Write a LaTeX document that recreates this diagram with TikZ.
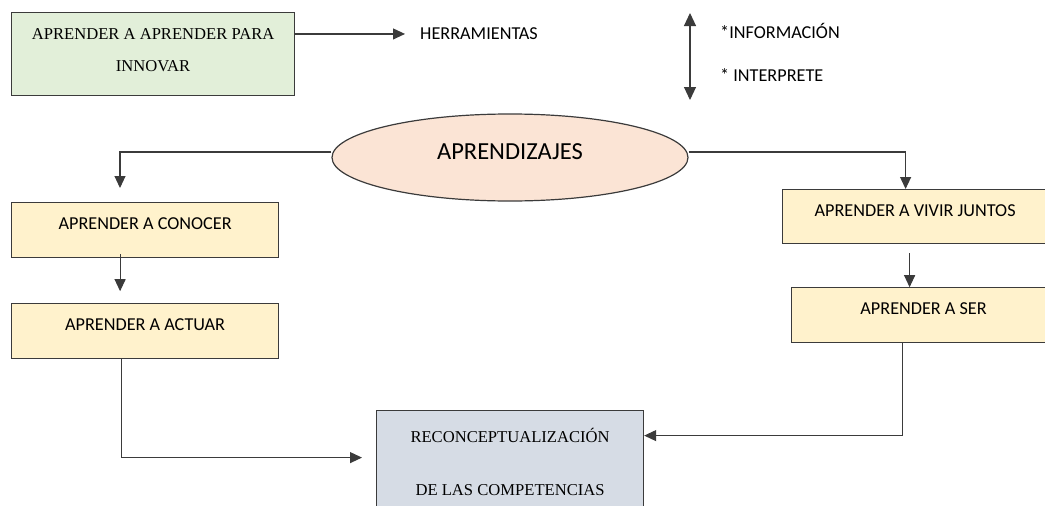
\documentclass[tikz,border=0pt]{standalone}
\usepackage{fontspec}
\setmainfont{Carlito}
\newfontfamily\cambria{Liberation Serif}
\usetikzlibrary{positioning,shapes.geometric,arrows.meta}

\definecolor{verde}{HTML}{E2EFD9}
\definecolor{durazno}{HTML}{FBE4D5}
\definecolor{crema}{HTML}{FFF2CC}
\definecolor{gris}{HTML}{D6DCE5}
\definecolor{borde}{HTML}{3B3B3B}

\tikzset{
  caja/.style={draw=borde,line width=1.2pt,inner sep=0pt,minimum width=267pt,
    text height=26.5pt,text depth=28.5pt,font=\fontsize{18.2}{22}\selectfont},
  flecha/.style={draw=borde,line width=1.1pt,-{Triangle[width=11pt,length=12pt]}},
  doble/.style={draw=borde,line width=1.1pt,{Triangle[width=12pt,length=13pt]}-{Triangle[width=12pt,length=13pt]}},
  etiqueta/.style={inner sep=0pt,anchor=base west,font=\fontsize{18.2}{22}\selectfont}
}

\begin{document}
\begin{tikzpicture}[x=1pt,y=-1pt]
\useasboundingbox (0,0) rectangle (1045,506);
\clip (0,0) rectangle (1045,506);

\node[caja,fill=verde,minimum width=283pt,text height=58.5pt,text depth=24.5pt,align=center,
  font=\cambria\fontsize{16.6}{32}\selectfont,anchor=north west] (innovar) at (11,12)
  {APRENDER A APRENDER PARA\\INNOVAR};
\node[etiqueta] (herr) at (420,39.8) {HERRAMIENTAS};
\node[etiqueta] (info) at (720,38.8) {*INFORMACIÓN};
\node[etiqueta] (interp) at (720,81.8) {* INTERPRETE};
\coordinate (arriba) at (690,13);
\coordinate (abajo) at (690,100);

\node[ellipse,draw=borde,line width=1.2pt,fill=durazno,minimum width=356pt,minimum height=87pt,
  inner sep=0pt,text height=9pt,text depth=4.6pt,font=\fontsize{24.5}{29}\selectfont] (aprend) at (510,157.5) {APRENDIZAJES};
\coordinate (izq) at (120,188);

\node[caja,fill=crema,anchor=north west] (conocer) at (11,202) {APRENDER A CONOCER};
\node[caja,fill=crema] (actuar) [below=45pt of conocer] {APRENDER A ACTUAR};
\node[caja,fill=crema,minimum width=265pt,text height=26.5pt,text depth=27.5pt,anchor=north west] (vivir) at (782,189) {APRENDER A VIVIR JUNTOS};
\node[caja,fill=crema,minimum width=264pt] (ser) [below=43pt of vivir,xshift=8.5pt] {APRENDER A SER};

\node[caja,fill=gris,text height=84.5pt,text depth=35.5pt,align=center,
  font=\cambria\fontsize{16.6}{53}\selectfont,anchor=north west] (recon) at (376,410)
  {RECONCEPTUALIZACIÓN\\DE LAS COMPETENCIAS};

\draw[flecha] (innovar.east |- herr.west) -- ([xshift=-15pt]herr.west);
\draw[doble] (arriba) -- (abajo);
\draw[flecha] ([yshift=5.5pt]aprend.west) -| (izq);
\draw[flecha] ([yshift=5.5pt]aprend.east) -| ([xshift=-9.5pt]vivir.north);
\draw[flecha] ([xshift=-25pt,yshift=4pt]conocer.south) -- ([xshift=-25pt,yshift=12pt]actuar.north);
\draw[flecha] ([xshift=-5.5pt,yshift=-9pt]vivir.south) -- ([xshift=-14pt]ser.north);
\draw[flecha] ([xshift=-21pt]ser.south) |- ([yshift=35pt]recon.east);
\draw[flecha] ([xshift=-24pt]actuar.south) |- ([xshift=-14pt,yshift=13pt]recon.west);
\end{tikzpicture}
\end{document}
